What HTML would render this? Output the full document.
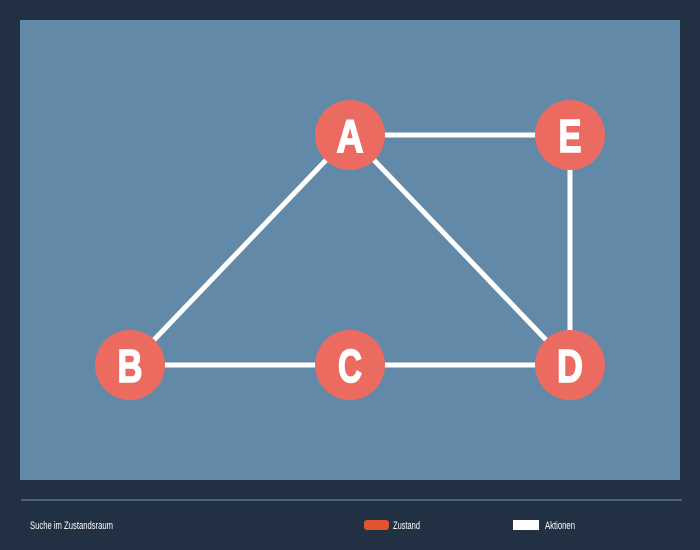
<!DOCTYPE html>
<html><head><meta charset="utf-8"><style>
html,body{margin:0;padding:0;background:#223044;}
svg{display:block}
</style></head><body>
<svg width="700" height="550" xmlns="http://www.w3.org/2000/svg">
<rect width="700" height="550" fill="#223044"/>
<rect x="20" y="20" width="660" height="460" fill="#628aa8"/>
<g stroke="#ffffff" stroke-width="5" fill="none">
<line x1="350" y1="135" x2="570" y2="135"/>
<line x1="570" y1="135" x2="570" y2="365"/>
<line x1="350" y1="135" x2="130" y2="365"/>
<line x1="350" y1="135" x2="570" y2="365"/>
<line x1="130" y1="365" x2="570" y2="365"/>
</g>
<g fill="#ec6b60">
<circle cx="350" cy="135" r="35"/>
<circle cx="570" cy="135" r="35"/>
<circle cx="130" cy="365" r="35"/>
<circle cx="350" cy="365" r="35"/>
<circle cx="570" cy="365" r="35"/>
</g>
<g fill="#ffffff" stroke="#ffffff" stroke-width="1.6" font-family="'Liberation Sans',sans-serif" font-weight="bold" font-size="46" text-anchor="middle">
<text x="350" y="152" textLength="27" lengthAdjust="spacingAndGlyphs">A</text>
<text x="570" y="152" textLength="23" lengthAdjust="spacingAndGlyphs">E</text>
<text x="130" y="382" textLength="25" lengthAdjust="spacingAndGlyphs">B</text>
<text x="350" y="382" textLength="24" lengthAdjust="spacingAndGlyphs">C</text>
<text x="570" y="382" textLength="26" lengthAdjust="spacingAndGlyphs">D</text>
</g>
<line x1="21" y1="500" x2="682" y2="500" stroke="#4a6580" stroke-width="2"/>
<g fill="#ffffff" font-family="'Liberation Sans',sans-serif" font-size="11">
<text x="30" y="529" textLength="83" lengthAdjust="spacingAndGlyphs">Suche im Zustandsraum</text>
<text x="393" y="529" textLength="27" lengthAdjust="spacingAndGlyphs">Zustand</text>
<text x="545" y="529" textLength="30" lengthAdjust="spacingAndGlyphs">Aktionen</text>
</g>
<rect x="364" y="520" width="25" height="10" rx="3" fill="#e05530"/>
<rect x="513" y="520" width="26" height="10" fill="#ffffff"/>
</svg>
</body></html>
